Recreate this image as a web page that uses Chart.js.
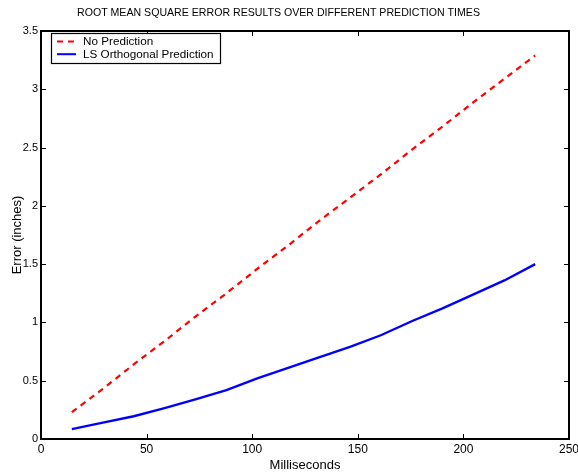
<!DOCTYPE html>
<html>
<head>
<meta charset="utf-8">
<script src="https://cdn.jsdelivr.net/npm/chart.js@4/dist/chart.umd.min.js"></script>
<style>
html,body{margin:0;padding:0;background:#fff;}
#wrap{width:578px;height:473px;position:relative;}
</style>
</head>
<body>
<div id="wrap"><canvas id="c" width="578" height="473"></canvas></div>
<script>
// Data
const timesMs = [14.6, 29.3, 43.9, 58.5, 73.1, 87.8, 102.4, 117.0, 131.6, 146.3, 160.9, 175.5, 190.1, 204.8, 219.4, 234.0];
const noPrediction = [0.23, 0.43, 0.64, 0.84, 1.05, 1.25, 1.46, 1.66, 1.87, 2.07, 2.27, 2.48, 2.68, 2.89, 3.09, 3.29];
const lsOrthogonal = [0.085, 0.14, 0.195, 0.265, 0.34, 0.42, 0.52, 0.61, 0.70, 0.79, 0.89, 1.01, 1.12, 1.24, 1.36, 1.50];
const seriesLabels = ['No Prediction', 'LS Orthogonal Prediction'];
const titleText = 'ROOT MEAN SQUARE ERROR RESULTS OVER DIFFERENT PREDICTION TIMES';
const xTitle = 'Milliseconds';
const yTitle = 'Error (inches)';

const FONT = "'Liberation Sans', Arial, Helvetica, sans-serif";

const toPts = (xs, ys) => xs.map((x, i) => ({x: x, y: ys[i]}));

// Draw title, box, inward ticks and an inside legend
const boxPlugin = {
  id: 'boxPlugin',
  afterDraw(chart) {
    const {ctx, chartArea: a, scales} = chart;
    ctx.save();
    // title
    ctx.fillStyle = '#000';
    ctx.font = '10.6px ' + FONT;
    ctx.textAlign = 'center';
    ctx.textBaseline = 'middle';
    ctx.fillText(titleText, 278.5, 13);

    ctx.strokeStyle = '#000';
    ctx.lineWidth = 1;
    const tl = 5;
    ctx.beginPath();
    scales.x.ticks.forEach((t, i) => {
      const px = Math.round(scales.x.getPixelForTick(i)) + 0.5;
      ctx.moveTo(px, a.bottom); ctx.lineTo(px, a.bottom - tl);
      ctx.moveTo(px, a.top); ctx.lineTo(px, a.top + tl);
    });
    scales.y.ticks.forEach((t, i) => {
      const py = Math.round(scales.y.getPixelForTick(i)) + 0.5;
      ctx.moveTo(a.left, py); ctx.lineTo(a.left + tl, py);
      ctx.moveTo(a.right, py); ctx.lineTo(a.right - tl, py);
    });
    ctx.stroke();
    ctx.lineWidth = 2;
    ctx.strokeRect(a.left, a.top, a.right - a.left, a.bottom - a.top);

    // legend inside plot
    const lx = a.left + 10, ly = a.top + 2, lw = 169, lh = 30;
    ctx.fillStyle = '#fff';
    ctx.fillRect(lx, ly, lw, lh);
    ctx.lineWidth = 1.2;
    ctx.strokeStyle = '#000';
    ctx.strokeRect(lx + 0.5, ly + 0.5, lw, lh);
    ctx.font = '11.7px ' + FONT;
    ctx.textBaseline = 'middle';
    chart.data.datasets.forEach((ds, i) => {
      const yy = ly + 8.5 + i * 12.7;
      ctx.beginPath();
      ctx.strokeStyle = ds.borderColor;
      ctx.lineWidth = 2;
      ctx.setLineDash(ds.borderDash || []);
      ctx.moveTo(lx + 6, yy); ctx.lineTo(lx + 25, yy);
      ctx.stroke();
      ctx.setLineDash([]);
      ctx.fillStyle = '#000';
      ctx.textAlign = 'left';
      ctx.fillText(ds.label, lx + 32, yy + 0.5);
    });
    ctx.restore();
  }
};

new Chart(document.getElementById('c'), {
  type: 'line',
  data: {
    datasets: [
      {label: seriesLabels[0], data: toPts(timesMs, noPrediction), borderColor: '#ff0000', borderWidth: 2.2, borderDash: [6, 5], pointRadius: 0, fill: false, tension: 0},
      {label: seriesLabels[1], data: toPts(timesMs, lsOrthogonal), borderColor: '#0000ff', borderWidth: 2.4, pointRadius: 0, fill: false, tension: 0}
    ]
  },
  options: {
    responsive: false,
    animation: false,
    devicePixelRatio: 1,
    layout: {padding: {left: 0, right: 9, top: 31, bottom: 0}},
    plugins: {
      legend: {display: false},
      tooltip: {enabled: false},
      title: {display: false}
    },
    scales: {
      x: {
        type: 'linear', min: 0, max: 250,
        ticks: {stepSize: 50, color: '#000', font: {family: FONT, size: 12}, padding: 3, maxRotation: 0},
        grid: {display: false, drawTicks: false},
        border: {display: false},
        title: {display: true, text: xTitle, color: '#000', font: {family: FONT, size: 13}, padding: {top: 0, bottom: 0}},
        afterFit(s) { s.height = 34; s.paddingLeft = 0; s.paddingRight = 0; }
      },
      y: {
        type: 'linear', min: 0, max: 3.5,
        ticks: {stepSize: 0.5, color: '#000', font: {family: FONT, size: 11}, padding: 3, callback: (v) => String(v)},
        grid: {display: false, drawTicks: false},
        border: {display: false},
        title: {display: true, text: yTitle, color: '#000', font: {family: FONT, size: 13}, padding: {top: 10, bottom: 2}},
        afterFit(s) { s.width = 41; s.paddingTop = 0; s.paddingBottom = 0; }
      }
    }
  },
  plugins: [boxPlugin]
});
</script>
</body>
</html>
